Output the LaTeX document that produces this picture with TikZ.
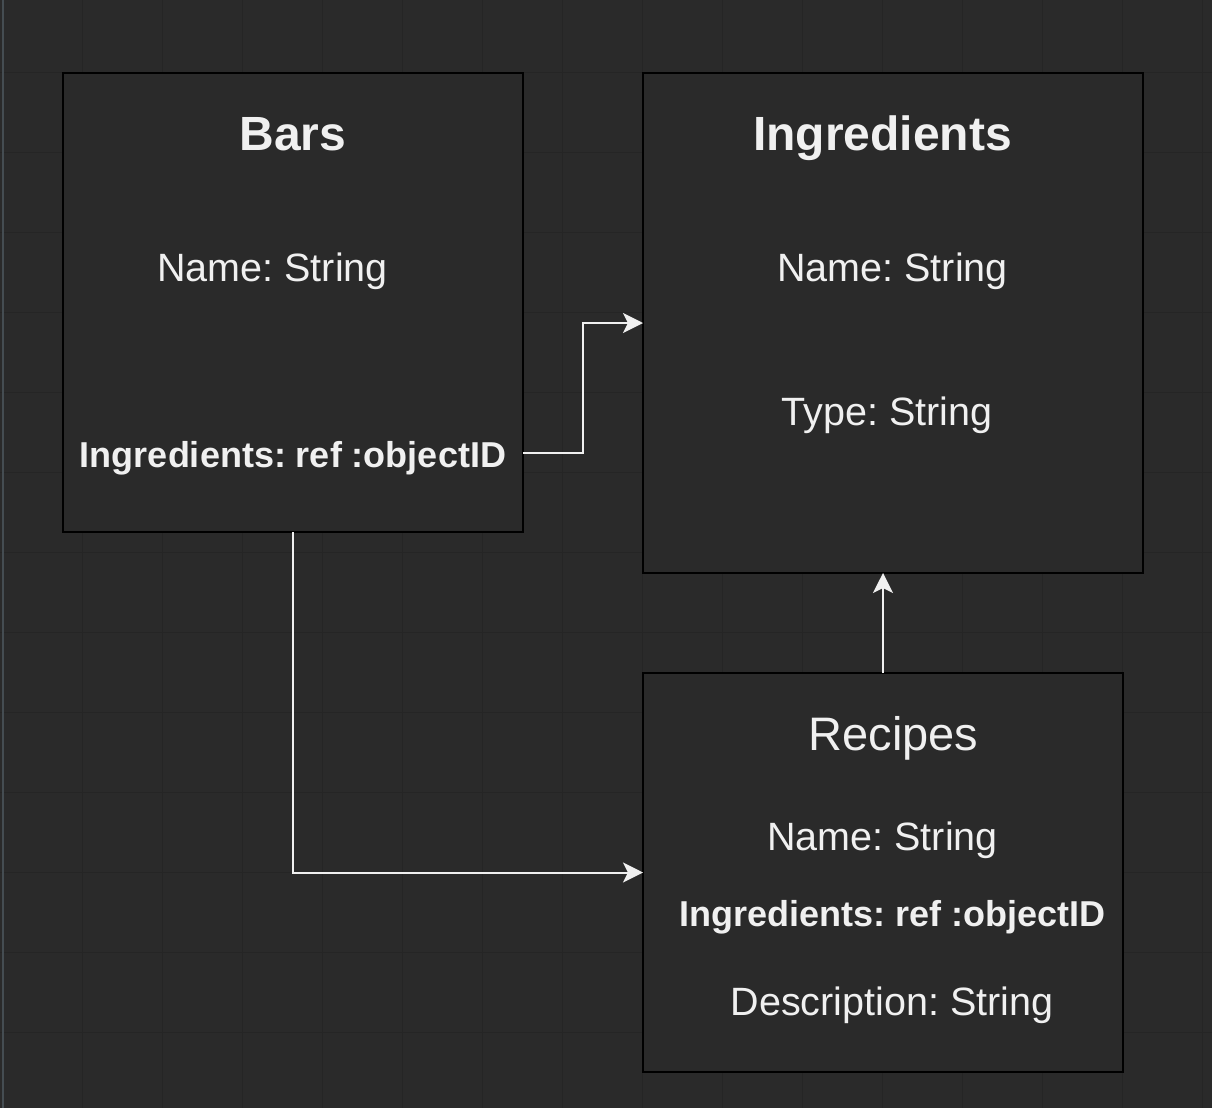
\documentclass[tikz,border=0pt]{standalone}
\usepackage{fontspec}
\setmainfont{Liberation Sans}
\usetikzlibrary{arrows.meta}
\definecolor{bg}{HTML}{2A2A2A}
\definecolor{gridc}{HTML}{252525}
\definecolor{fg}{HTML}{F0F0F0}
\definecolor{stripe}{HTML}{454D52}
\frenchspacing
\begin{document}
\begin{tikzpicture}[x=1pt,y=-1pt,
  entity/.style={draw=black, line width=2pt, fill=bg, inner sep=0pt, outer sep=0pt, anchor=north west},
  conn/.style={draw=fg, line width=2pt, -{Stealth[length=20pt,width=20pt,inset=5pt]}},
  txt/.style={text=fg, inner sep=0pt, anchor=base},
  title/.style={txt, font=\fontsize{48}{56}\selectfont\bfseries},
  rtitle/.style={txt, font=\fontsize{47}{56}\selectfont},
  field/.style={txt, font=\fontsize{39.5}{48}\selectfont},
  reffield/.style={txt, font=\fontsize{36}{44}\selectfont\bfseries}]
\fill[bg] (0,0) rectangle (1212,1108);
\useasboundingbox (0,0) rectangle (1212,1108);
\foreach \x in {82,162,...,1202} \draw[gridc, line width=1pt] (\x,0) -- (\x,1108);
\foreach \y in {72,152,...,1032} \draw[gridc, line width=1pt] (0,\y) -- (1212,\y);
\fill[stripe] (1.7,0) rectangle (4,1108);
% boxes
\node[entity, minimum width=460pt, minimum height=459pt] (bars) at (63,73) {};
\node[entity, minimum width=500pt, minimum height=500pt] (ing) at (643,73) {};
\node[entity, minimum width=480pt, minimum height=399pt] (rec) at (643,673) {};
% Bars texts
\node[title] (barsT) at (293,150) {Bars};
\node[field] (barsName) at (272.5,281.5) {Name: String};
\node[reffield] (barsRef) at (293,467) {Ingredients: ref :objectID};
% Ingredients texts
\node[title] (ingT) at (882.5,150) {Ingredients};
\node[field] (ingName) at (892.5,281.5) {Name: String};
\node[field] (ingType) at (887,425) {Type: String};
% Recipes texts
\node[rtitle] (recT) at (893.5,750) {Recipes};
\node[field] (recName) at (882.5,850) {Name: String};
\node[reffield] (recRef) at (892.5,926) {Ingredients: ref :objectID};
\node[field] (recDesc) at (892,1015) {Description: String};
% connectors
\draw[conn] ([yshift=-380pt]bars.north east) -- ++(60,0) |- (ing.west);
\draw[conn] (rec.north) -- (rec.north |- ing.south);
\draw[conn] (bars.south) |- (rec.west);
\end{tikzpicture}
\end{document}
